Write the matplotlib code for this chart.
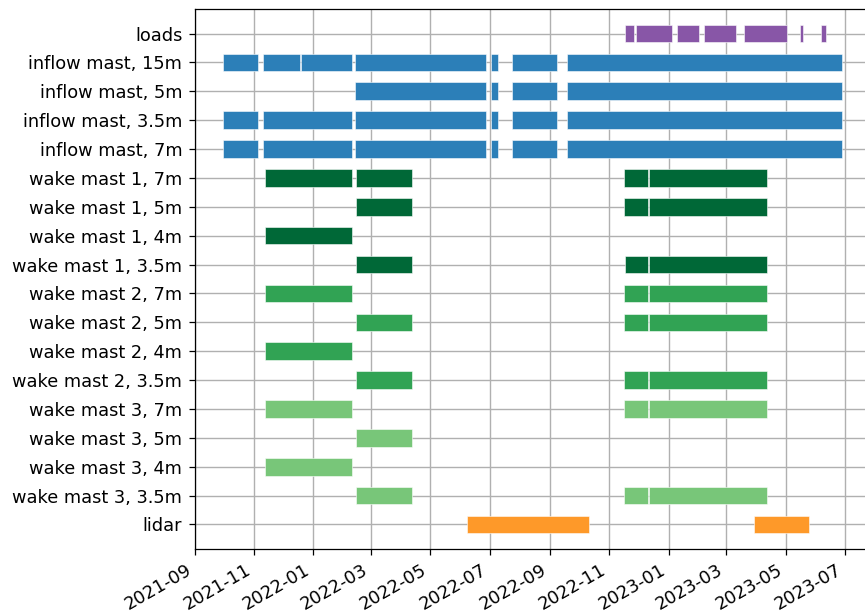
import matplotlib
matplotlib.use("Agg")
import matplotlib.pyplot as plt
import matplotlib.dates as mdates
import pandas as pd

# Row labels, top to bottom
labels = [
    "loads",
    "inflow mast, 15m", "inflow mast, 5m", "inflow mast, 3.5m", "inflow mast, 7m",
    "wake mast 1, 7m", "wake mast 1, 5m", "wake mast 1, 4m", "wake mast 1, 3.5m",
    "wake mast 2, 7m", "wake mast 2, 5m", "wake mast 2, 4m", "wake mast 2, 3.5m",
    "wake mast 3, 7m", "wake mast 3, 5m", "wake mast 3, 4m", "wake mast 3, 3.5m",
    "lidar",
]

loads = [("2022-11-17", "2022-11-26"), ("2022-11-28", "2023-01-04"),
         ("2023-01-09", "2023-02-01"), ("2023-02-06", "2023-03-11"),
         ("2023-03-19", "2023-05-02"), ("2023-05-16", "2023-05-19"),
         ("2023-06-06", "2023-06-12")]

inflow_15m = [("2021-09-30", "2021-11-05"), ("2021-11-10", "2021-12-18"),
              ("2021-12-19", "2022-02-10"), ("2022-02-13", "2022-06-27"),
              ("2022-07-03", "2022-07-10"), ("2022-07-24", "2022-09-08"),
              ("2022-09-19", "2023-06-28")]
inflow_5m = [("2022-02-13", "2022-06-27"), ("2022-07-03", "2022-07-10"),
             ("2022-07-24", "2022-09-08"), ("2022-09-19", "2023-06-28")]
inflow_35m = [("2021-09-30", "2021-11-05"), ("2021-11-10", "2022-02-10"),
              ("2022-02-13", "2022-06-27"), ("2022-07-03", "2022-07-10"),
              ("2022-07-24", "2022-09-08"), ("2022-09-19", "2023-06-28")]
inflow_7m = [("2021-09-30", "2021-11-05"), ("2021-11-10", "2022-02-10"),
             ("2022-02-13", "2022-06-27"), ("2022-07-03", "2022-07-10"),
             ("2022-07-24", "2022-09-08"), ("2022-09-19", "2023-06-28")]

wake_early = [("2021-11-12", "2022-02-10")]
wake_spring = [("2022-02-14", "2022-04-12")]
wake_late = [("2022-11-16", "2022-12-11"), ("2022-12-12", "2023-04-12")]
wake_late_b = [("2022-11-17", "2022-12-11"), ("2022-12-12", "2023-04-12")]

wake1_7m = wake_early + wake_spring + wake_late
wake1_5m = wake_spring + wake_late
wake1_4m = wake_early
wake1_35m = wake_spring + wake_late_b
wake2_7m = wake_early + wake_late
wake2_5m = wake_spring + wake_late
wake2_4m = wake_early
wake2_35m = wake_spring + wake_late
wake3_7m = wake_early + wake_late
wake3_5m = wake_spring
wake3_4m = wake_early
wake3_35m = wake_spring + wake_late

lidar = [("2022-06-08", "2022-10-11"), ("2023-03-30", "2023-05-25")]

rows = [loads, inflow_15m, inflow_5m, inflow_35m, inflow_7m,
        wake1_7m, wake1_5m, wake1_4m, wake1_35m,
        wake2_7m, wake2_5m, wake2_4m, wake2_35m,
        wake3_7m, wake3_5m, wake3_4m, wake3_35m,
        lidar]

c_loads = "#8856a7"
c_inflow = "#2c7fb8"
c_w1 = "#006837"
c_w2 = "#31a354"
c_w3 = "#78c679"
c_lidar = "#fe9929"
row_colors = [c_loads] + [c_inflow] * 4 + [c_w1] * 4 + [c_w2] * 4 + [c_w3] * 4 + [c_lidar]

W, H = 865, 616
fig = plt.figure(figsize=(W / 100, H / 100), dpi=100)
ax = fig.add_axes([194.5 / W, (H - 549) / H, (873.5 - 194.5) / W, (549 - 9) / H])

n = len(labels)
for i, (segs, col) in enumerate(zip(rows, row_colors)):
    y = n - 1 - i
    xr = []
    for s, e in segs:
        s0 = mdates.date2num(pd.Timestamp(s))
        e0 = mdates.date2num(pd.Timestamp(e))
        xr.append((s0, e0 - s0))
    ax.broken_barh(xr, (y - 0.305, 0.61), facecolors=col,
                   edgecolor=(1, 1, 1, 0.55), linewidth=0.7, zorder=3)

ax.set_yticks(range(n))
ax.set_yticklabels(labels[::-1], fontsize=12.8)
ax.set_ylim(-0.85, n - 1 + 0.85)

x0 = mdates.date2num(pd.Timestamp("2021-09-01"))
ax.set_xlim(x0, x0 + 697.3)
ax.xaxis.set_major_locator(mdates.MonthLocator(bymonth=[1, 3, 5, 7, 9, 11]))
ax.xaxis.set_major_formatter(mdates.DateFormatter("%Y-%m"))
for lab in ax.get_xticklabels():
    lab.set_rotation(30)
    lab.set_ha("right")
    lab.set_fontsize(12.8)

ax.tick_params(axis="both", length=4.0, pad=4.8, width=0.9)
for sp in ax.spines.values():
    sp.set_linewidth(0.9)

ax.grid(True, color="#b0b0b0", linewidth=1.0)
ax.set_axisbelow(True)

fig.savefig("out.png", dpi=100)
